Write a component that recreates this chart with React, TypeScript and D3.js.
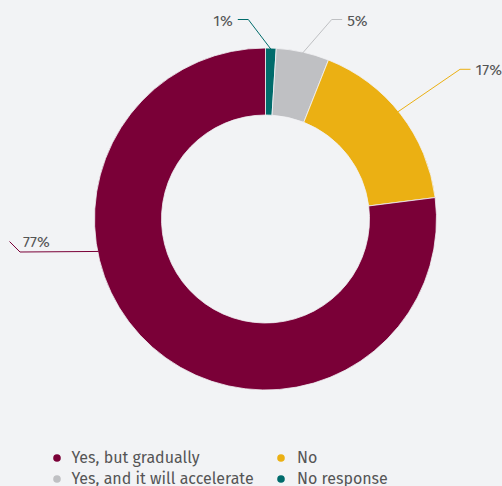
import React from "react";
import * as d3 from "d3";

const categories = ["No response", "Yes, and it will accelerate", "No", "Yes, but gradually"];
const values = [1, 5, 17, 77];
const colors = ["#006b6b", "#bfc0c3", "#ebb013", "#7a0037"];
const legendOrder = ["Yes, but gradually", "No", "Yes, and it will accelerate", "No response"];

// label layout (annotation placement): anchor angle in degrees, elbow point, side
const labelLayout = [
  { angle: 1.8, elbow: [248.3, 19.5], side: -1 },
  { angle: 12.6, elbow: [331.7, 19.5], side: 1 },
  { angle: 51, elbow: [460, 69.3], side: 1 },
  { angle: 259, elbow: [20, 252], side: -1 },
];

const W = 502;
const H = 486;
const cx = 265.5;
const cy = 219;
const R = 171;
const r = 104;
const FONT = "'Fira Sans', 'Open Sans', sans-serif";

export default function App() {
  const pie = d3.pie<number>().sort(null).startAngle(0).endAngle(2 * Math.PI)(values);
  const arc = d3.arc<d3.PieArcDatum<number>>().innerRadius(r).outerRadius(R);
  const polar = (deg: number, rad: number) => {
    const a = (deg * Math.PI) / 180;
    return [cx + rad * Math.sin(a), cy - rad * Math.cos(a)];
  };
  return (
    <div style={{ position: "fixed", left: 0, top: 0, width: W, height: H }}>
      <svg width={W} height={H} style={{ display: "block", background: "#f2f3f5" }}>
        <g transform={`translate(${cx},${cy})`}>
          {pie.map((d, i) => (
            <path key={i} d={arc(d) || ""} fill={colors[i]} stroke="#f2f3f5" strokeWidth={0.8} />
          ))}
        </g>
        {pie.map((d, i) => {
          const L = labelLayout[i];
          const [sx, sy] = polar(L.angle, R - 1);
          const [ex, ey] = L.elbow;
          let pts: number[][];
          let tx: number;
          let anchor: string;
          let ty: number;
          if (i === 3) {
            pts = [[sx, sy], [ex, ey], [ex - 10.5, ey - 10.5]];
            tx = ex + 3;
            anchor = "start";
            ty = ey - 5;
          } else {
            const endX = ex + L.side * 10.5;
            pts = [[sx, sy], [ex, ey], [endX, ey]];
            tx = endX + L.side * 5;
            anchor = L.side < 0 ? "end" : "start";
            ty = ey + 6;
          }
          return (
            <g key={i}>
              <polyline
                points={pts.map((p) => p.join(",")).join(" ")}
                fill="none"
                stroke={colors[i]}
                strokeWidth={1}
              />
              <text x={tx} y={ty} textAnchor={anchor} fontFamily={FONT} fontSize={15.5} fill="#555">
                {`${d.data}%`}
              </text>
            </g>
          );
        })}
        {legendOrder.map((name, k) => {
          const col = k % 2;
          const row = Math.floor(k / 2);
          const x = col === 0 ? 57 : 281;
          const y = 458 + row * 21;
          const ci = categories.indexOf(name);
          return (
            <g key={name}>
              <circle cx={x} cy={y} r={3.8} fill={colors[ci]} />
              <text x={x + (col === 0 ? 14.5 : 16)} y={y + 5} fontFamily={FONT} fontSize={16} fill="#555">
                {name}
              </text>
            </g>
          );
        })}
      </svg>
    </div>
  );
}
